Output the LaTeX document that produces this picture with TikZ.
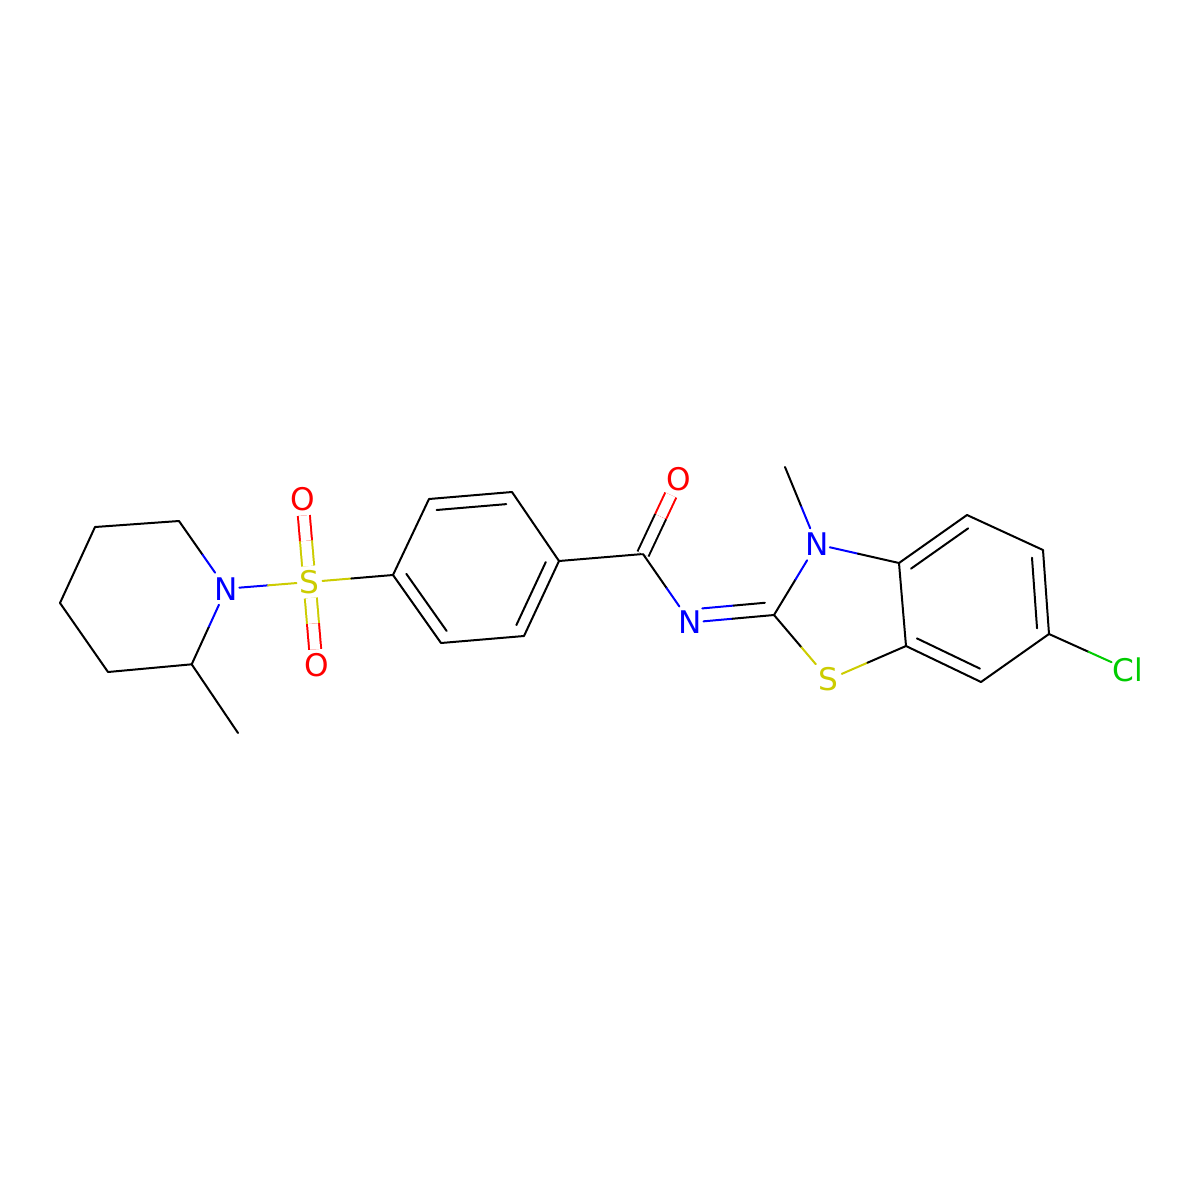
\documentclass[tikz,border=0pt]{standalone}
\usepackage{fontspec}
\setmainfont{DejaVu Sans}
\usetikzlibrary{calc}
\definecolor{nblue}{RGB}{0,0,255}
\definecolor{ored}{RGB}{255,0,0}
\definecolor{syel}{RGB}{204,204,0}
\definecolor{clgreen}{RGB}{0,204,0}
\newcommand\bnd[4]{%
  \draw[#3] (#1) -- ($(#1)!0.5!(#2)$);
  \draw[#4] ($(#1)!0.5!(#2)$) -- (#2);}
\newcommand\dbnd[4]{%
  \draw[#3,dbl] (#1) -- ($(#1)!0.5!(#2)$);
  \draw[#4,dbl] ($(#1)!0.5!(#2)$) -- (#2);}
\newcommand\innerln[3]{\draw ($(#1)!0.16!(#3)$) -- ($(#2)!0.16!(#3)$);}
\begin{document}
\begin{tikzpicture}[x=0.5pt,y=-0.5pt,line width=1pt,line cap=round,line join=round,
  atom/.style={inner sep=0pt,minimum height=15pt,minimum width=12pt,
    font=\fontsize{15.6}{18}\selectfont},
  dbl/.style={double=white,double distance=5pt,line cap=butt}]
\useasboundingbox[fill=white] (0,0) rectangle (1200,1200);
% labelled atoms
\node[atom,text=nblue] (N1) at (226.3,588.7) {N};
\node[atom,text=syel] (S) at (309.5,582) {S};
\node[atom,text=ored] (O1) at (302.5,499.5) {O};
\node[atom,text=ored] (O2) at (316.5,665.3) {O};
\node[atom,text=ored] (O3) at (678.3,479) {O};
\node[atom,text=nblue] (N2) at (690.5,622.5) {N};
\node[atom,text=nblue] (N3) at (816.8,544.3) {N};
\node[atom,text=syel] (S1) at (828.8,679.5) {S};
\node[atom,text=clgreen] (Cl) at (1127.8,669.5) {Cl};
% carbon atoms
\coordinate (Ca) at (179,521);
\coordinate (Cb) at (95,527);
\coordinate (Cc) at (60,603);
\coordinate (Cd) at (108,672);
\coordinate (Ce) at (191.7,664.3);
\coordinate (Me1) at (238,733);
\coordinate (B1) at (393,575);
\coordinate (B2) at (429,499);
\coordinate (B3) at (512,492);
\coordinate (B4) at (559,561);
\coordinate (B5) at (524,636);
\coordinate (B6) at (441,643);
\coordinate (BC) at (476.3,567.7);
\coordinate (Cam) at (643,554);
\coordinate (T2) at (774,615);
\coordinate (Me2) at (785,467);
\coordinate (C3a) at (899,563);
\coordinate (C4) at (967,515);
\coordinate (C5) at (1043,550);
\coordinate (C6) at (1049,634);
\coordinate (C7) at (981,682);
\coordinate (C7a) at (906,646);
\coordinate (RC) at (974.2,598.3);
% piperidine
\bnd{Ca}{N1}{black}{nblue}
\draw (Ca) -- (Cb) -- (Cc) -- (Cd) -- (Ce);
\bnd{Ce}{N1}{black}{nblue}
\draw (Ce) -- (Me1);
% sulfonyl
\bnd{N1}{S}{nblue}{syel}
\bnd{S}{B1}{syel}{black}
\dbnd{S}{O1}{syel}{ored}
\dbnd{S}{O2}{syel}{ored}
% benzene
\draw (B1) -- (B2) -- (B3) -- (B4) -- (B5) -- (B6) -- cycle;
\innerln{B2}{B3}{BC}
\innerln{B4}{B5}{BC}
\innerln{B6}{B1}{BC}
% amide
\draw (B4) -- (Cam);
\dbnd{Cam}{O3}{black}{ored}
\bnd{Cam}{N2}{black}{nblue}
\bnd{N2}{T2}{nblue}{black}
\coordinate (d1) at ($(N2)!6.5pt!(T2)$);
\coordinate (d2) at ($(T2)!4pt!(N2)$);
\coordinate (e1) at ($(d1)!6.5pt!90:(T2)$);
\coordinate (e2) at ($(d2)!6.5pt!-90:(N2)$);
\bnd{e1}{e2}{nblue}{black}
% thiazole
\bnd{T2}{N3}{black}{nblue}
\bnd{N3}{C3a}{nblue}{black}
\bnd{N3}{Me2}{nblue}{black}
\bnd{T2}{S1}{black}{syel}
\bnd{S1}{C7a}{syel}{black}
% benzo ring
\draw (C3a) -- (C4) -- (C5) -- (C6) -- (C7) -- (C7a) -- cycle;
\innerln{C3a}{C4}{RC}
\innerln{C5}{C6}{RC}
\innerln{C7}{C7a}{RC}
\bnd{C6}{Cl}{black}{clgreen}
\end{tikzpicture}
\end{document}
